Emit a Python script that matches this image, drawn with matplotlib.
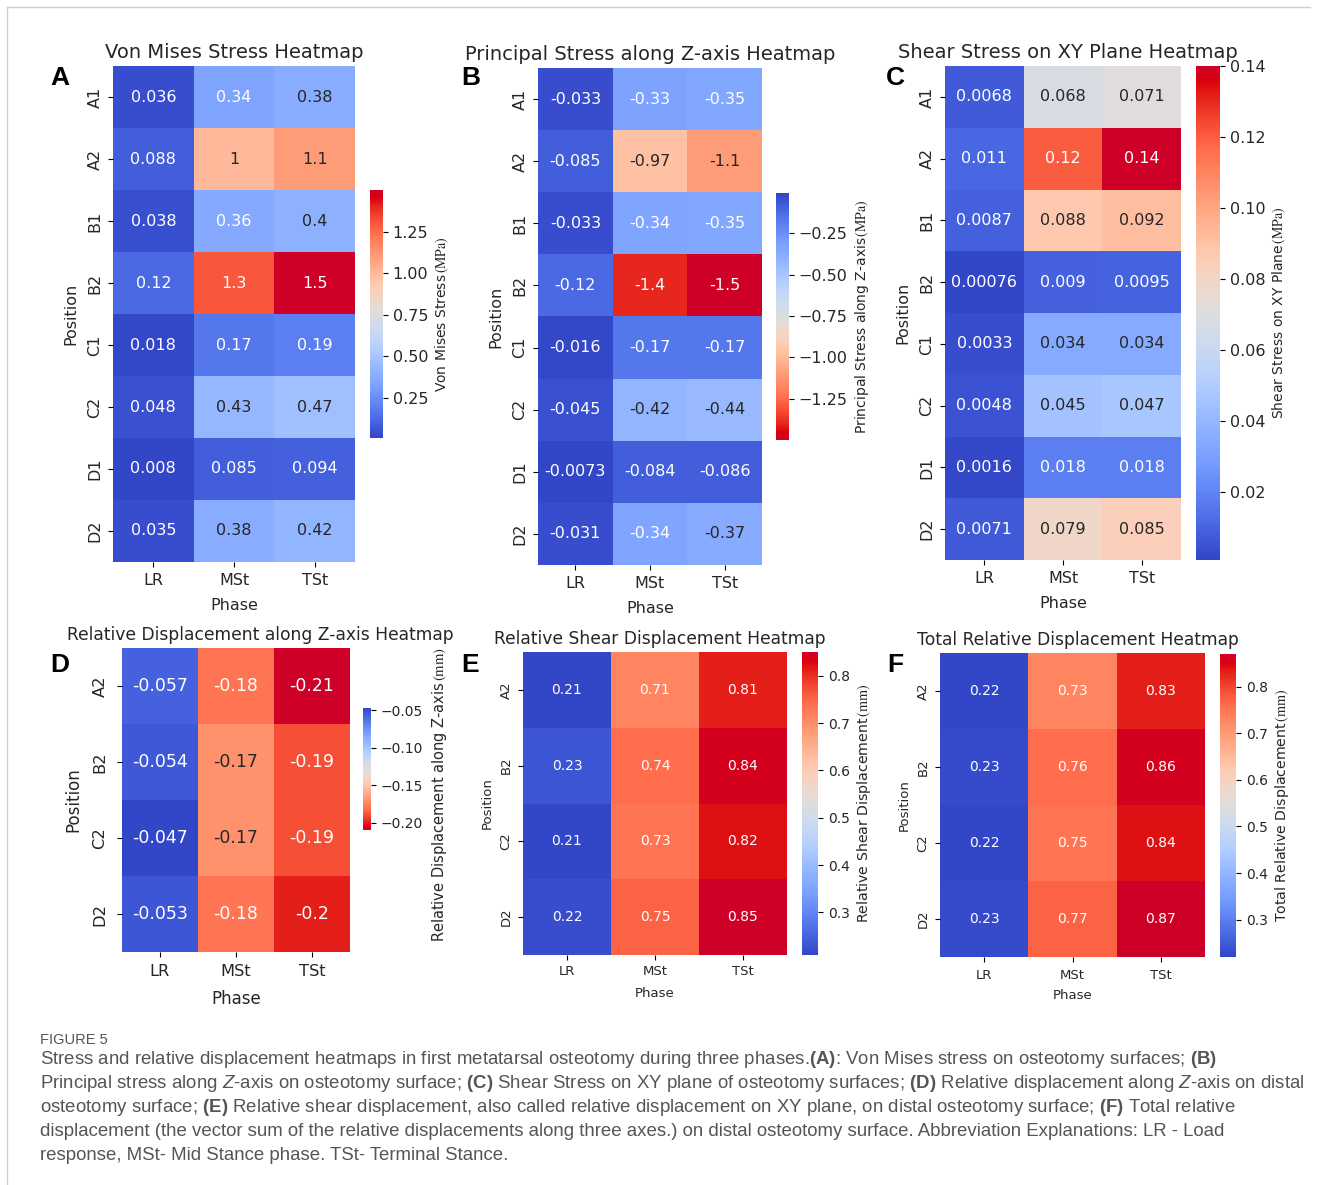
import numpy as np
import matplotlib
matplotlib.use("Agg")
import matplotlib.pyplot as plt
from matplotlib import font_manager as fm
from matplotlib.lines import Line2D
from matplotlib.colors import ListedColormap, rgb_to_hsv, hsv_to_rgb

W, H = 1329, 1185

rows8 = ["A1", "A2", "B1", "B2", "C1", "C2", "D1", "D2"]
rows4 = ["A2", "B2", "C2", "D2"]
phases = ["LR", "MSt", "TSt"]

von_mises = [[0.036, 0.34, 0.38],
             [0.088, 1.0, 1.1],
             [0.038, 0.36, 0.4],
             [0.12, 1.3, 1.5],
             [0.018, 0.17, 0.19],
             [0.048, 0.43, 0.47],
             [0.008, 0.085, 0.094],
             [0.035, 0.38, 0.42]]

principal_z = [[-0.033, -0.33, -0.35],
               [-0.085, -0.97, -1.1],
               [-0.033, -0.34, -0.35],
               [-0.12, -1.4, -1.5],
               [-0.016, -0.17, -0.17],
               [-0.045, -0.42, -0.44],
               [-0.0073, -0.084, -0.086],
               [-0.031, -0.34, -0.37]]

shear_xy = [[0.0068, 0.068, 0.071],
            [0.011, 0.12, 0.14],
            [0.0087, 0.088, 0.092],
            [0.00076, 0.009, 0.0095],
            [0.0033, 0.034, 0.034],
            [0.0048, 0.045, 0.047],
            [0.0016, 0.018, 0.018],
            [0.0071, 0.079, 0.085]]

disp_z = [[-0.057, -0.18, -0.21],
          [-0.054, -0.17, -0.19],
          [-0.047, -0.17, -0.19],
          [-0.053, -0.18, -0.2]]

shear_disp = [[0.21, 0.71, 0.81],
              [0.23, 0.74, 0.84],
              [0.21, 0.73, 0.82],
              [0.22, 0.75, 0.85]]

total_disp = [[0.22, 0.73, 0.83],
              [0.23, 0.76, 0.86],
              [0.22, 0.75, 0.84],
              [0.23, 0.77, 0.87]]

ticks_a = [0.25, 0.5, 0.75, 1.0, 1.25]
ticks_b = [-0.25, -0.5, -0.75, -1.0, -1.25]
ticks_c = [0.02, 0.04, 0.06, 0.08, 0.10, 0.12, 0.14]
ticks_d = [-0.05, -0.10, -0.15, -0.20]
ticks_e = [0.3, 0.4, 0.5, 0.6, 0.7, 0.8]
ticks_f = [0.3, 0.4, 0.5, 0.6, 0.7, 0.8]

caption_lines = [
    r"Stress and relative displacement heatmaps in first metatarsal osteotomy during three phases.$\mathbf{(A)}$: Von Mises stress on osteotomy surfaces; $\mathbf{(B)}$",
    r"Principal stress along $\mathit{Z}$-axis on osteotomy surface; $\mathbf{(C)}$ Shear Stress on XY plane of osteotomy surfaces; $\mathbf{(D)}$ Relative displacement along $\mathit{Z}$-axis on distal",
    r"osteotomy surface; $\mathbf{(E)}$ Relative shear displacement, also called relative displacement on XY plane, on distal osteotomy surface; $\mathbf{(F)}$ Total relative",
    r"displacement (the vector sum of the relative displacements along three axes.) on distal osteotomy surface. Abbreviation Explanations: LR - Load",
    r"response, MSt- Mid Stance phase. TSt- Terminal Stance.",
]

names = {f.name for f in fm.fontManager.ttflist}
cap_font = "Liberation Sans"
for cand in ["Liberation Sans Narrow", "DejaVu Sans Condensed"]:
    if cand in names:
        cap_font = cand
        break

plt.rcParams["font.family"] = "DejaVu Sans"
plt.rcParams["mathtext.fontset"] = "custom"
plt.rcParams["mathtext.rm"] = cap_font
plt.rcParams["mathtext.bf"] = cap_font + ":bold"
plt.rcParams["mathtext.it"] = cap_font + ":italic"

TXT = "#262626"

# coolwarm, a bit more vivid on the red side (the figure was exported that way)
x = np.linspace(0, 1, 256)
hsv = rgb_to_hsv(plt.get_cmap("coolwarm")(x)[:, :3])
hot = np.clip(2 * x - 1, 0, 1)
cold = np.clip(1 - 2 * x, 0, 1)
hsv[:, 1] = np.clip(hsv[:, 1] * (1 + 0.25 * hot + 0.08 * cold), 0, 1)
hsv[:, 2] = np.clip(hsv[:, 2] * (1 + 0.15 * hot + 0.04 * cold), 0, 1)
cw = ListedColormap(hsv_to_rgb(hsv), name="cw")
cw_r = cw.reversed()


def rect(x0, y0, x1, y1):
    return [x0 / W, 1 - y1 / H, (x1 - x0) / W, (y1 - y0) / H]


fig = plt.figure(figsize=(W / 100, H / 100), dpi=100)


def panel(box, cbox, vals, rows, cmap, title, cblabel, unit, ticks, fs, letter, lxy,
          thresh=0.408, title_x=0.5, cb_label_at=None):
    arr = np.array(vals)
    nr, nc = arr.shape
    ax = fig.add_axes(rect(*box))
    mesh = ax.pcolormesh(np.arange(nc + 1), np.arange(nr + 1), arr, cmap=cmap,
                         vmin=arr.min(), vmax=arr.max())
    ax.set_xlim(0, nc)
    ax.set_ylim(nr, 0)
    for s in ax.spines.values():
        s.set_visible(False)
    ax.set_xticks(np.arange(nc) + 0.5)
    ax.set_xticklabels(phases, fontsize=fs["tick"], color=TXT)
    ax.set_yticks(np.arange(nr) + 0.5)
    ax.set_yticklabels(rows, fontsize=fs["tick"], rotation=90, va="center", color=TXT)
    ax.tick_params(axis="x", pad=fs["xpad"])
    ax.tick_params(axis="y", pad=fs["ypad"])
    ax.set_xlabel("Phase", fontsize=fs["label"], color=TXT, labelpad=fs["xlp"])
    ax.set_ylabel("Position", fontsize=fs["label"], color=TXT, labelpad=fs["ylp"])
    ax.set_title(title, fontsize=fs["title"], color=TXT, x=title_x)
    for i in range(nr):
        for j in range(nc):
            rgba = mesh.cmap(mesh.norm(arr[i, j]))
            lin = [c / 12.92 if c <= 0.03928 else ((c + 0.055) / 1.055) ** 2.4 for c in rgba[:3]]
            lum = 0.2126 * lin[0] + 0.7152 * lin[1] + 0.0722 * lin[2]
            col = TXT if lum > thresh else "white"
            ax.text(j + 0.5, i + 0.5, format(arr[i, j], ".2g"), ha="center", va="center",
                    fontsize=fs["annot"], color=col)
    cax = fig.add_axes(rect(*cbox))
    cb = fig.colorbar(mesh, cax=cax, ticks=ticks)
    cb.outline.set_visible(False)
    cb.ax.tick_params(labelsize=fs["cbtick"], labelcolor=TXT)
    cb.set_label(cblabel + r"$\,\mathrm{(" + unit + ")}$", fontsize=fs["cblabel"], color=TXT)
    cb.ax.yaxis.label.set_math_fontfamily("stix")
    if cb_label_at is not None:
        cb.ax.yaxis.set_label_coords(*cb_label_at)
    fig.text(lxy[0] / W, 1 - lxy[1] / H, letter, fontsize=19, fontweight="bold",
             family="Liberation Sans", ha="center", va="center", color="black")
    return ax


fs_top = dict(title=14, annot=11.5, tick=11.5, label=11.5, cbtick=11.5, cblabel=10,
              xpad=4.5, ypad=4, xlp=7, ylp=6.5)
fs_d = dict(title=12.3, annot=12.5, tick=11.7, label=12, cbtick=10, cblabel=10.5,
            xpad=5.5, ypad=7, xlp=7.5, ylp=7)
fs_e = dict(title=12.3, annot=10, tick=9.5, label=9.5, cbtick=10, cblabel=10.2,
            xpad=4, ypad=4, xlp=6, ylp=4)
fs_f = dict(title=12.3, annot=10, tick=9.5, label=9.5, cbtick=10, cblabel=10.2,
            xpad=5, ypad=4, xlp=5.5, ylp=4)

panel((113, 66, 355, 562), (370, 190, 383, 438), von_mises, rows8, cw,
      "Von Mises Stress Heatmap", "Von Mises Stress", "MPa", ticks_a, fs_top, "A", (60, 78))
panel((538, 68, 762, 565), (776, 193, 789, 440), principal_z, rows8, cw_r,
      "Principal Stress along Z-axis Heatmap", "Principal Stress along Z-axis", "MPa", ticks_b,
      fs_top, "B", (471, 78))
panel((945, 66, 1181, 560), (1196, 66, 1220, 560), shear_xy, rows8, cw,
      "Shear Stress on XY Plane Heatmap", "Shear Stress on XY Plane", "MPa", ticks_c,
      fs_top, "C", (895, 78), title_x=0.52)
panel((122, 648, 350, 952), (363, 708, 371, 830), disp_z, rows4, cw_r,
      "Relative Displacement along Z-axis Heatmap", "Relative Displacement along Z-axis", "mm",
      ticks_d, fs_d, "D", (60, 665), title_x=(260 - 122) / 228,
      cb_label_at=((430 - 363) / 8, (830 - 795) / 122))
panel((523, 652, 787, 955), (802, 652, 818, 955), shear_disp, rows4, cw,
      "Relative Shear Displacement Heatmap", "Relative Shear Displacement", "mm", ticks_e,
      fs_e, "E", (470, 665), thresh=2, title_x=0.52)
panel((940, 653, 1205, 957), (1220, 654, 1236, 957), total_disp, rows4, cw,
      "Total Relative Displacement Heatmap", "Total Relative Displacement", "mm", ticks_f,
      fs_f, "F", (895, 665), thresh=2, title_x=0.52)

# frame lines
fig.add_artist(Line2D([7 / W, 1310 / W], [1 - 7 / H, 1 - 7 / H], color="#cfcfcf", lw=1))
fig.add_artist(Line2D([7 / W, 7 / W], [0, 1 - 7 / H], color="#cfcfcf", lw=1))

# caption
CAP = "#555555"
fig.text(40 / W, 1 - 1040 / H, "FIGURE 5", fontsize=10.5, family=cap_font, color=CAP,
         ha="left", va="center")
texts = []
for k, line in enumerate(caption_lines):
    t = fig.text(40 / W, 1 - (1060 + 23.8 * k) / H, line, fontsize=13, family=cap_font,
                 color=CAP, ha="left", va="center")
    texts.append(t)
r = fig.canvas.get_renderer()
wpx = texts[1].get_window_extent(r).width
size = 13 * 1260 / wpx
for t in texts:
    t.set_fontsize(size)

fig.savefig("out.png", dpi=100)
